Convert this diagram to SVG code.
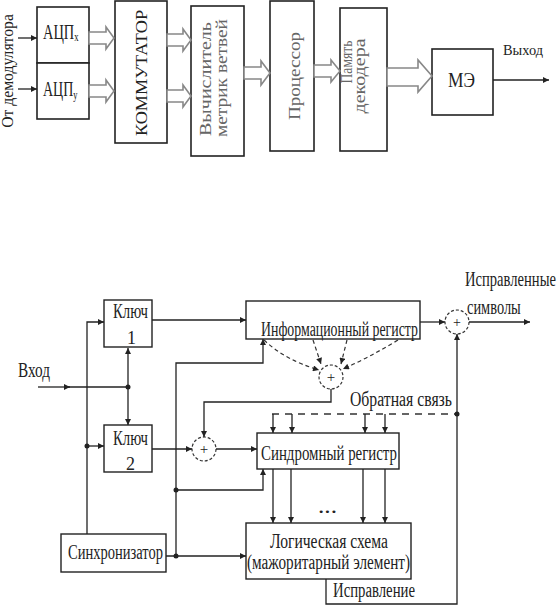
<svg xmlns="http://www.w3.org/2000/svg" width="557" height="608" viewBox="0 0 557 608">
<defs>
<marker id="ah" viewBox="0 0 10 10" refX="10" refY="5" markerWidth="7" markerHeight="6" markerUnits="userSpaceOnUse" orient="auto">
<path d="M0,0 L10,5 L0,10 z" fill="#222"/>
</marker>
<style>
.box{fill:#fff;stroke:#222;stroke-width:1.4}
.tbox{fill:#fff;stroke:#222;stroke-width:1.6}
.ln{fill:none;stroke:#222;stroke-width:1.3}
.la{fill:none;stroke:#222;stroke-width:1.3;marker-end:url(#ah)}
.dl{fill:none;stroke:#333;stroke-width:1.2;stroke-dasharray:4 3;marker-end:url(#ah)}
.hol{fill:#fff;stroke:#888;stroke-width:1.6}
.sum{fill:#fff;stroke:#333;stroke-width:1.2;stroke-dasharray:3 2}
.t{font-family:"Liberation Serif","Times New Roman",serif;fill:#222}
.g{font-family:"Liberation Serif","Times New Roman",serif;fill:#666}
.dot{fill:#222}
</style>
</defs>
<rect width="557" height="608" fill="#fff"/>

<!-- TOP DIAGRAM -->
<g id="src-label">
<text class="t" font-size="16" text-anchor="middle" transform="translate(13,71) rotate(-90) scale(0.98,1)">От демодулятора</text>
</g>
<g id="adc-x">
<rect class="tbox" x="37" y="7" width="52" height="56"/>
<text class="t" font-size="20" transform="translate(43,39) scale(0.72,1)">АЦП<tspan font-size="12" dy="2">x</tspan></text>
</g>
<g id="adc-y">
<rect class="tbox" x="37" y="63" width="52" height="56"/>
<text class="t" font-size="20" transform="translate(43,96) scale(0.7,1)">АЦП<tspan font-size="12" dy="3">y</tspan></text>
</g>
<g id="commutator">
<rect class="tbox" x="115" y="1" width="52" height="142"/>
<text class="t" font-size="17" text-anchor="middle" textLength="126" lengthAdjust="spacingAndGlyphs" transform="translate(147,73) rotate(-90)">КОММУТАТОР</text>
</g>
<g id="metric-calc">
<rect class="tbox" x="191" y="6" width="53" height="150"/>
<text class="g" font-size="16" text-anchor="middle" textLength="114" lengthAdjust="spacingAndGlyphs" transform="translate(211,79) rotate(-90)">Вычислитель</text>
<text class="g" font-size="16" text-anchor="middle" textLength="118" lengthAdjust="spacingAndGlyphs" transform="translate(227,78) rotate(-90)">метрик ветвей</text>
</g>
<g id="processor">
<rect class="tbox" x="270" y="1" width="44" height="150"/>
<text class="g" font-size="16" text-anchor="middle" textLength="88" lengthAdjust="spacingAndGlyphs" transform="translate(300,76) rotate(-90)">Процессор</text>
</g>
<g id="decoder-memory">
<rect class="tbox" x="340" y="8" width="47" height="143"/>
<text class="g" font-size="16" text-anchor="middle" textLength="43" lengthAdjust="spacingAndGlyphs" transform="translate(352,62) rotate(-90)">Память</text>
<text class="g" font-size="16" text-anchor="middle" textLength="75" lengthAdjust="spacingAndGlyphs" transform="translate(365,76) rotate(-90)">декодера</text>
</g>
<g id="me">
<rect class="tbox" x="432" y="49" width="61" height="66"/>
<text class="t" font-size="20" x="448" y="87" textLength="27" lengthAdjust="spacingAndGlyphs">МЭ</text>
</g>
<text class="t" font-size="15" x="503" y="55" textLength="40" lengthAdjust="spacingAndGlyphs">Выход</text>

<g id="top-connectors">
<line class="la" x1="18" y1="38" x2="37" y2="38"/>
<line class="la" x1="18" y1="89" x2="37" y2="89"/>
<path class="hol" d="M89,32 L106,32 L106,27 L114,38 L106,49 L106,44 L89,44 Z"/>
<path class="hol" d="M89,85 L106,85 L106,80 L114,91 L106,102 L106,97 L89,97 Z"/>
<path class="hol" d="M167,34 L183,34 L183,29 L191,40 L183,51 L183,46 L167,46 Z"/>
<path class="hol" d="M167,90 L183,90 L183,85 L191,96 L183,107 L183,102 L167,102 Z"/>
<path class="hol" d="M244,67 L261,67 L261,61 L270,73 L261,85 L261,79 L244,79 Z"/>
<path class="hol" d="M314,65 L331,65 L331,60 L340,71 L331,82 L331,77 L314,77 Z"/>
<path class="hol" d="M387,68 L418,68 L418,60 L432,76 L418,92 L418,86 L387,86 Z"/>
<line class="la" x1="493" y1="80" x2="549" y2="80"/>
</g>

<!-- BOTTOM DIAGRAM -->
<g id="key1">
<rect class="box" x="104" y="300" width="48" height="47"/>
<text class="t" font-size="20" x="113" y="318" textLength="35" lengthAdjust="spacingAndGlyphs">Ключ</text>
<text class="t" font-size="18" x="127" y="344">1</text>
</g>
<g id="key2">
<rect class="box" x="104" y="425" width="48" height="47"/>
<text class="t" font-size="20" x="113" y="445" textLength="35" lengthAdjust="spacingAndGlyphs">Ключ</text>
<text class="t" font-size="18" x="126" y="470">2</text>
</g>
<g id="info-register">
<rect class="box" x="246" y="301" width="174" height="38"/>
<text class="t" font-size="20" transform="translate(261,336) scale(0.707,1)" textLength="222" lengthAdjust="spacingAndGlyphs">Информационный регистр</text>
</g>
<g id="syndrome-register">
<rect class="box" x="257" y="433" width="142" height="36"/>
<text class="t" font-size="20" x="261" y="460" textLength="136" lengthAdjust="spacingAndGlyphs">Синдромный регистр</text>
</g>
<g id="logic">
<rect class="box" x="246" y="523" width="165" height="56"/>
<text class="t" font-size="20" x="270" y="548" textLength="118" lengthAdjust="spacingAndGlyphs">Логическая схема</text>
<text class="t" font-size="20" x="247" y="569" textLength="163" lengthAdjust="spacingAndGlyphs">(мажоритарный элемент)</text>
</g>
<g id="synchronizer">
<rect class="box" x="61" y="534" width="105" height="38"/>
<text class="t" font-size="20" x="68" y="559" textLength="95" lengthAdjust="spacingAndGlyphs">Синхронизатор</text>
</g>
<g id="sum-out">
<circle class="sum" cx="457" cy="322" r="12"/>
<text class="t" font-size="14" x="457" y="327" text-anchor="middle">+</text>
</g>
<g id="sum-info">
<circle class="sum" cx="331" cy="377" r="12"/>
<text class="t" font-size="15" x="331" y="382" text-anchor="middle">+</text>
</g>
<g id="sum-syn">
<circle class="sum" cx="204" cy="449" r="12"/>
<text class="t" font-size="15" x="204" y="454" text-anchor="middle">+</text>
</g>

<g id="labels">
<text class="t" font-size="20" transform="translate(465,286) scale(0.73,1)">Исправленные</text>
<text class="t" font-size="20" transform="translate(467,314) scale(0.72,1)">символы</text>
<text class="t" font-size="20" x="18" y="377" textLength="32" lengthAdjust="spacingAndGlyphs">Вход</text>
<text class="t" font-size="20" x="350" y="406" textLength="102" lengthAdjust="spacingAndGlyphs">Обратная связь</text>
<text class="t" font-size="20" x="318" y="513" textLength="19" lengthAdjust="spacingAndGlyphs">...</text>
<text class="t" font-size="20" x="333" y="597" textLength="82" lengthAdjust="spacingAndGlyphs">Исправление</text>
</g>

<g id="connectors">
<line class="la" x1="38" y1="387" x2="70" y2="387"/>
<line class="ln" x1="68" y1="387" x2="128" y2="387"/>
<line class="la" x1="128" y1="387" x2="128" y2="348"/>
<line class="la" x1="128" y1="387" x2="128" y2="425"/>
<line class="la" x1="152" y1="320" x2="246" y2="320"/>
<line class="la" x1="420" y1="322" x2="445" y2="322"/>
<line class="la" x1="469" y1="322" x2="530" y2="322"/>
<path class="la" d="M326,579 L326,604 L457,604 L457,334"/>
<line x1="272" y1="414" x2="457" y2="414" stroke="#333" stroke-width="1.3" stroke-dasharray="7 6"/>
<line class="la" x1="273" y1="414" x2="273" y2="433"/>
<line class="la" x1="292" y1="414" x2="292" y2="433"/>
<line class="la" x1="365" y1="414" x2="365" y2="433"/>
<line class="la" x1="385" y1="414" x2="385" y2="433"/>
<path class="dl" d="M264,340 Q285,360 319,370"/>
<path class="dl" d="M313,340 L321,364"/>
<path class="dl" d="M347,340 L341,364"/>
<path class="dl" d="M398,340 Q370,357 343,369"/>
<path class="la" d="M331,389 L331,402 L204,402 L204,437"/>
<line class="la" x1="152" y1="449" x2="192" y2="449"/>
<line class="la" x1="216" y1="449" x2="257" y2="449"/>
<line class="la" x1="273" y1="469" x2="273" y2="523"/>
<line class="la" x1="291" y1="469" x2="291" y2="523"/>
<line class="la" x1="363" y1="469" x2="363" y2="523"/>
<line class="la" x1="385" y1="469" x2="385" y2="523"/>
<line class="la" x1="166" y1="556" x2="246" y2="556"/>
<path class="la" d="M176,556 L176,363 L263,363 L263,339"/>
<path class="la" d="M176,490 L263,490 L263,469"/>
<path class="la" d="M87,534 L87,322 L104,322"/>
<line class="la" x1="87" y1="446" x2="104" y2="446"/>
<circle class="dot" cx="128" cy="387" r="2.5"/>
<circle class="dot" cx="457" cy="414" r="2.5"/>
<circle class="dot" cx="176" cy="556" r="2.5"/>
<circle class="dot" cx="176" cy="490" r="2.5"/>
<circle class="dot" cx="87" cy="446" r="2.5"/>
</g>
</svg>
